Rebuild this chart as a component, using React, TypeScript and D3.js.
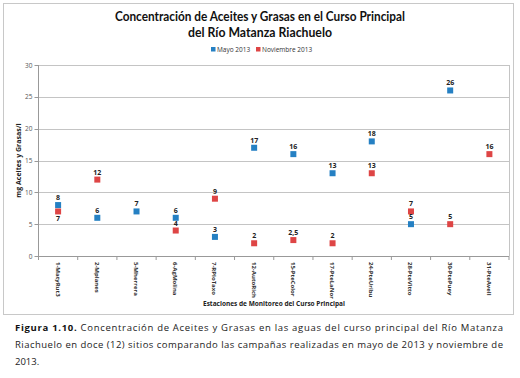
import React from "react";
import * as d3 from "d3";

const stations = [
  "1-MatyRut3", "2-Mplanes", "5-Mherrera", "6-AgMolina", "7-RPloTaxo", "12-AutoRich",
  "15-PteColor", "17-PteLaNor", "24-PteUribu", "28-PteVitto", "30-PtePuey", "31-PteAvell",
];
const mayo: (number | null)[] = [8, 6, 7, 6, 3, 17, 16, 13, 18, 5, 26, null];
const noviembre: (number | null)[] = [7, 12, null, 4, 9, 2, 2.5, 2, 13, 7, 5, 16];
const novLabelBelow = [true, false, false, false, false, false, false, false, false, false, false, false];
const yTicks = [0, 5, 10, 15, 20, 25, 30];
const seriesNames = ["Mayo 2013", "Noviembre 2013"];

const BLUE = "#2580c3";
const RED = "#de4545";

export default function App() {
  const left = 38.5, right = 509, top = 65, bottom = 256;
  const x = d3.scaleBand<string>().domain(stations).range([left, right]);
  const y = d3.scaleLinear().domain([0, 30]).range([bottom, top]);
  const fmt = (v: number) => String(v).replace(".", ",");
  const ms = 6;
  const font = "'Open Sans', 'DejaVu Sans', sans-serif";
  const boundaries = d3.range(stations.length + 1).map((i) => left + i * x.bandwidth());

  const renderSeries = (vals: (number | null)[], color: string, below?: boolean[]) =>
    vals.map((v, i) => {
      if (v == null) return null;
      const cx = (x(stations[i]) as number) + x.bandwidth() / 2;
      const cy = y(v);
      const b = below ? below[i] : false;
      return (
        <g key={color + i}>
          <rect x={cx - ms / 2} y={cy - ms / 2} width={ms} height={ms} fill={color} />
          <text x={cx} y={b ? cy + 10 : cy - 5} textAnchor="middle" fontSize={7} fontWeight={700} fill="#222" fontFamily={font}>
            {fmt(v)}
          </text>
        </g>
      );
    });

  return (
    <svg width={520} height={378} style={{ position: "absolute", left: 0, top: 0, background: "#fff" }}>
      <rect x={3.5} y={3.5} width={510} height={311} fill="#fff" stroke="#c8c8c8" strokeWidth={1} />
      <text x={260} y={21} textAnchor="middle" fontSize={13} fontWeight={700} fontFamily="Lato, sans-serif" fill="#111" textLength={290} lengthAdjust="spacingAndGlyphs">
        Concentración de Aceites y Grasas en el Curso Principal
      </text>
      <text x={260} y={37} textAnchor="middle" fontSize={13} fontWeight={700} fontFamily="Lato, sans-serif" fill="#111" textLength={144} lengthAdjust="spacingAndGlyphs">
        del Río Matanza Riachuelo
      </text>
      {/* legend */}
      <rect x={211} y={47} width={4.5} height={4.5} fill={BLUE} />
      <text x={217} y={51.5} fontSize={6.5} fontFamily={font} fill="#333">{seriesNames[0]}</text>
      <rect x={256} y={47} width={4.5} height={4.5} fill={RED} />
      <text x={262} y={51.5} fontSize={6.5} fontFamily={font} fill="#333">{seriesNames[1]}</text>
      {/* grid */}
      {yTicks.map((t) => (
        <g key={t}>
          <line x1={left} x2={right} y1={Math.round(y(t)) + 0.5} y2={Math.round(y(t)) + 0.5} stroke="#c4c4c4" strokeWidth={1} />
          <line x1={left - 4} x2={left} y1={Math.round(y(t)) + 0.5} y2={Math.round(y(t)) + 0.5} stroke="#999" />
          <text x={left - 6} y={y(t) + 2.5} textAnchor="end" fontSize={6.5} fontFamily={font} fill="#555">{t}</text>
        </g>
      ))}
      <line x1={right + 0.5} x2={right + 0.5} y1={top} y2={bottom} stroke="#c4c4c4" />
      <line x1={left} x2={left} y1={top} y2={bottom + 4} stroke="#999" />
      {boundaries.map((bx, i) => (
        <line key={i} x1={bx} x2={bx} y1={bottom} y2={bottom + 4} stroke="#999" />
      ))}
      <line x1={left} x2={right} y1={bottom + 0.5} y2={bottom + 0.5} stroke="#999" />
      {/* x labels */}
      {stations.map((s) => {
        const cx = (x(s) as number) + x.bandwidth() / 2;
        return (
          <text key={s} transform={`translate(${cx - 2.5},${bottom + 6}) rotate(90)`} fontSize={6} fontWeight={700} fontFamily={font} fill="#333">
            {s}
          </text>
        );
      })}
      <text x={274} y={306} textAnchor="middle" fontSize={6.5} fontWeight={700} fontFamily={font} fill="#222">
        Estaciones de Monitoreo del Curso Principal
      </text>
      <text transform={`translate(21,${(top + bottom) / 2}) rotate(-90)`} textAnchor="middle" fontSize={7} fontWeight={700} fontFamily={font} fill="#222">
        mg Aceites y Grasas/l
      </text>
      {renderSeries(noviembre, RED, novLabelBelow)}
      {renderSeries(mayo, BLUE)}
      {/* caption */}
      <text x={15} y={330.5} fontSize={9.5} fontFamily={font} fill="#222" textLength={488} lengthAdjust="spacing">
        <tspan fontWeight={700} fill="#111">Figura 1.10.</tspan> Concentración de Aceites y Grasas en las aguas del curso principal del Río Matanza
      </text>
      <text x={15} y={348} fontSize={9.5} fontFamily={font} fill="#222" textLength={488} lengthAdjust="spacing">
        Riachuelo en doce (12) sitios comparando las campañas realizadas en mayo de 2013 y noviembre de
      </text>
      <text x={15} y={365} fontSize={9.5} fontFamily={font} fill="#222">
        2013.
      </text>
    </svg>
  );
}
